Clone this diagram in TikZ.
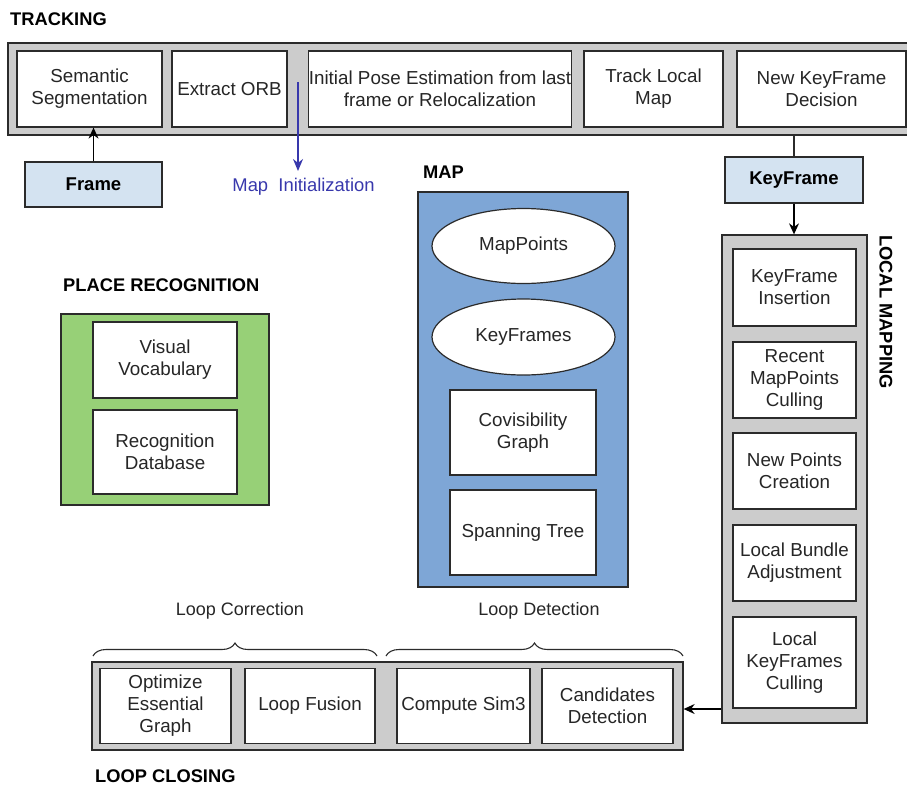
\documentclass[tikz,border=0pt]{standalone}
\usepackage{fontspec}
\setmainfont{Liberation Sans}
\usetikzlibrary{arrows.meta,decorations.pathreplacing,shapes.geometric}
\definecolor{graybg}{HTML}{CCCCCC}
\definecolor{lightblue}{HTML}{D4E3F1}
\definecolor{mapblue}{HTML}{7EA6D6}
\definecolor{placegreen}{HTML}{97D077}
\definecolor{initblue}{HTML}{3838AC}
\definecolor{edge}{HTML}{2B2B2B}
\tikzset{
  container/.style={draw=edge, line width=1.3pt, fill=graybg, inner sep=0pt},
  box/.style={draw=edge, line width=1.2pt, fill=white, align=center, inner sep=0pt,
    font=\fontsize{18.8}{22}\selectfont, text=black!85},
  oval/.style={draw=edge, line width=1.2pt, fill=white, ellipse, inner sep=0pt,
    font=\fontsize{18.8}{22}\selectfont, text=black!85},
  inbox/.style={draw=edge, line width=1.2pt, fill=lightblue, inner sep=0pt,
    font=\bfseries\fontsize{18.5}{22}\selectfont},
  title/.style={font=\bfseries\fontsize{18.3}{21}\selectfont, inner sep=0pt},
  lbl/.style={font=\fontsize{18}{21}\selectfont, inner sep=0pt, text=black!85},
  arr/.style={line width=1.2pt, draw=black, -{Stealth[length=11pt,width=10pt]}},
  plain/.style={line width=1.2pt, draw=edge},
  bluearr/.style={line width=1.3pt, draw=initblue, -{Stealth[length=12pt,width=10pt]}},
  brc/.style={line width=1.1pt, draw=edge, decorate, decoration={brace, amplitude=13pt}}
}
\begin{document}
\begin{tikzpicture}[x=1pt,y=-1pt]
\useasboundingbox (0,0) rectangle (907,785);
% TRACKING
\node[title, anchor=west] (ttrack) at (10,19) {TRACKING};
\node[container, minimum width=900, minimum height=92] (track) at (458,89) {};
\node[box, minimum width=145, minimum height=76] (seg) at (89.5,89) {Semantic\\Segmentation};
\node[box, minimum width=115, minimum height=76] (orb) at (229.5,89) {Extract ORB};
\node[box, minimum width=260, minimum height=76] (pose) at (440,89) {Initial Pose Estimation from last\\frame or Relocalization};
\node[box, minimum width=139, minimum height=76] (tlm) at (653.5,89) {Track Local\\Map};
\node[box, minimum width=169, minimum height=76] (nkf) at (821.5,89) {New KeyFrame\\Decision};
\node[inbox, minimum width=137, minimum height=45] (frame) at (93.5,184.5) {Frame};
\draw[arr] (frame.north) -- (frame.north |- seg.south);
\coordinate (mi0) at (298,82);
\node[lbl, text=initblue, font=\fontsize{18.4}{21}\selectfont] (mapinit) at (303.5,187) {Map\ \ Initialization};
\coordinate (mi1) at (298,171);
\draw[bluearr] (mi0) -- (mi1);
% KEYFRAME
\node[inbox, minimum width=138, minimum height=46] (kf) at (794,180) {KeyFrame};
\draw[plain] (track.south -| kf) -- (kf.north);
% MAP
\node[title, anchor=west] (tmap) at (423,172) {MAP};
\node[draw=edge, line width=1.3pt, fill=mapblue, minimum width=210, minimum height=395, inner sep=0pt] (map) at (523,389.5) {};
\node[oval, minimum width=183, minimum height=75] (mp) at (523.5,246) {MapPoints};
\node[oval, minimum width=183, minimum height=76] (kfs) at (523.5,337) {KeyFrames};
\node[box, minimum width=146, minimum height=85] (cov) at (523,432.5) {Covisibility\\Graph};
\node[box, minimum width=146, minimum height=85] (span) at (523,532.5) {Spanning Tree};
% PLACE RECOGNITION
\node[title, anchor=west] (tplace) at (63,285) {PLACE RECOGNITION};
\node[draw=edge, line width=1.3pt, fill=placegreen, minimum width=208, minimum height=191, inner sep=0pt] (place) at (165,409.5) {};
\node[box, minimum width=144, minimum height=76] (vv) at (165,360) {Visual\\Vocabulary};
\node[box, minimum width=144, minimum height=84] (rdb) at (165,452) {Recognition\\Database};
% LOCAL MAPPING
\node[container, minimum width=145, minimum height=488] (lm) at (794.5,479) {};
\node[title, rotate=-90] (tlm2) at (886,312) {LOCAL MAPPING};
\draw[arr] (kf.south) -- (kf.south |- lm.north);
\node[box, minimum width=123, minimum height=77] (kfi) at (794.5,287.5) {KeyFrame\\Insertion};
\node[box, minimum width=123, minimum height=76] (rmc) at (794.5,380) {Recent\\MapPoints\\Culling};
\node[box, minimum width=123, minimum height=76] (npc) at (794.5,471) {New Points\\Creation};
\node[box, minimum width=123, minimum height=76] (lba) at (794.5,563) {Local Bundle\\Adjustment};
\node[box, minimum width=123, minimum height=91] (lkc) at (794.5,662.5) {Local\\KeyFrames\\Culling};
% LOOP CLOSING
\node[container, minimum width=591, minimum height=88] (lc) at (387.5,706) {};
\node[box, minimum width=131, minimum height=75] (oeg) at (165.5,706) {Optimize\\Essential\\Graph};
\node[box, minimum width=130, minimum height=75] (lf) at (310,706) {Loop Fusion};
\node[box, minimum width=133, minimum height=75] (cs3) at (463.5,706) {Compute Sim3};
\node[box, minimum width=131, minimum height=75] (cd) at (607.5,706) {Candidates\\Detection};
\node[title, anchor=west] (tlc) at (95,776) {LOOP CLOSING};
\coordinate (lmo) at ([yshift=-3pt]lm.west |- lc.east);
\draw[arr] (lmo) -- (lc.east |- lmo);
% braces
\coordinate (b1a) at (93,656);
\coordinate (b1b) at (377,656);
\coordinate (b2a) at (386,656);
\coordinate (b2b) at (683,656);
\draw[brc] (b1a) -- (b1b);
\draw[brc] (b2a) -- (b2b);
\node[lbl] (lcorr) at (240,611) {Loop Correction};
\node[lbl] (ldet) at (539,611) {Loop Detection};
\end{tikzpicture}
\end{document}
